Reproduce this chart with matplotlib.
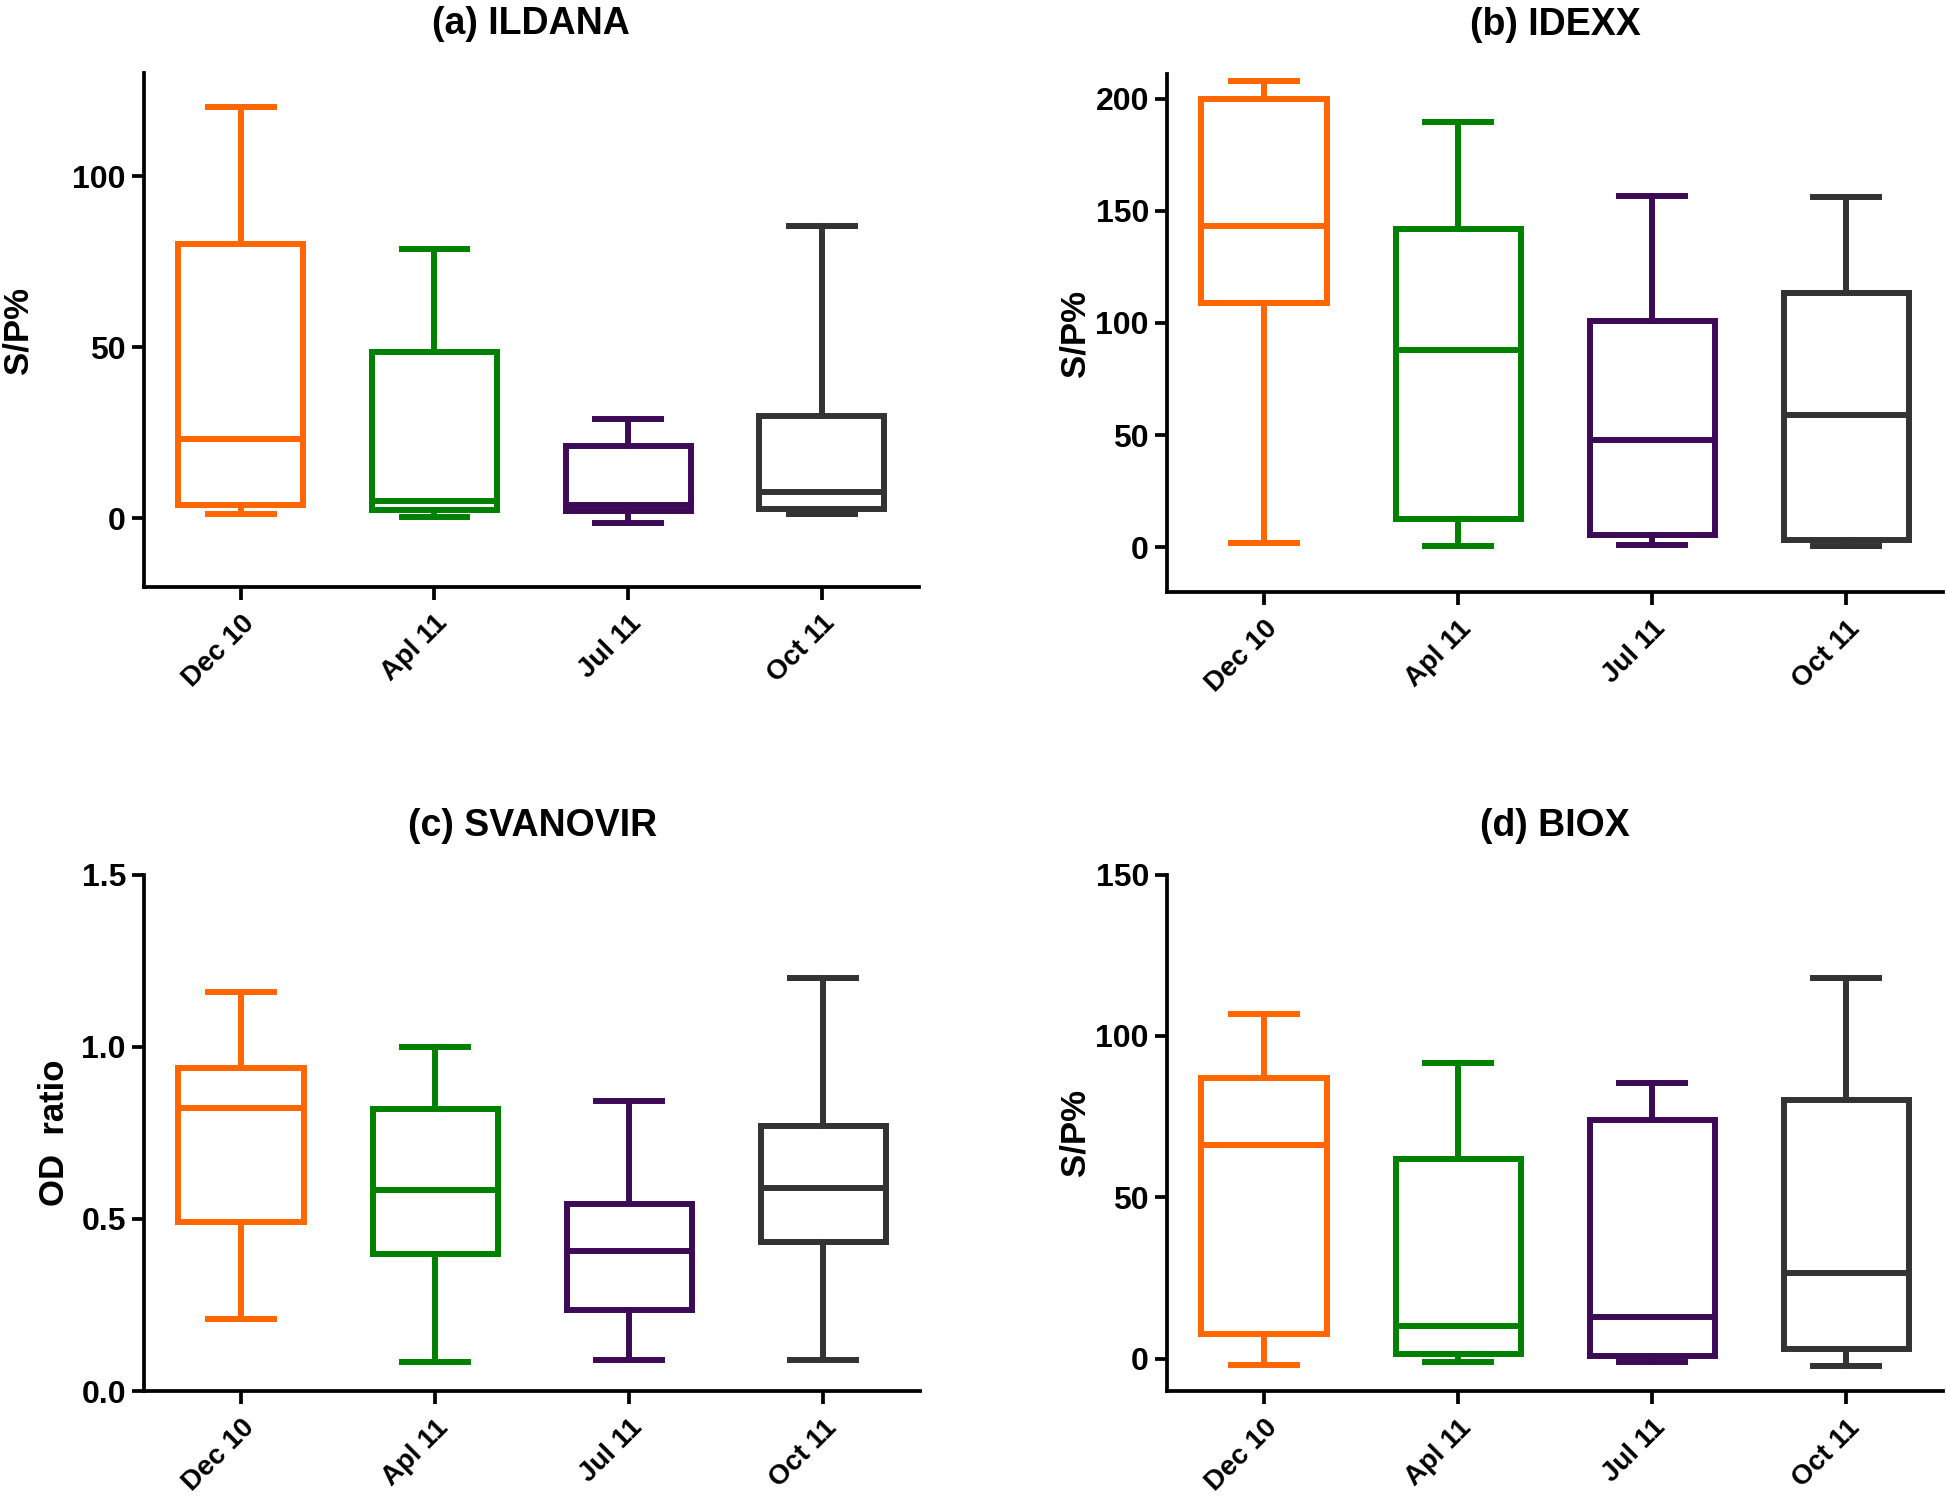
"""Box plots of antibody levels by sampling month for four ELISA kits."""
import matplotlib

matplotlib.use("Agg")
from matplotlib import pyplot as plt
from matplotlib.transforms import ScaledTranslation

months = ["Dec 10", "Apl 11", "Jul 11", "Oct 11"]
box_colors = ["#ff6600", "#008000", "#3d0a55", "#333333"]

# whisker low, Q1, median, Q3, whisker high per month
ildana_low = [1.3, 0.3, -1.4, 1.3]
ildana_q1 = [3.8, 2.4, 2.1, 2.7]
ildana_med = [23.2, 5.2, 3.8, 7.7]
ildana_q3 = [80.1, 48.7, 21.2, 29.8]
ildana_high = [120.1, 78.8, 28.9, 85.4]

idexx_low = [2.1, 0.4, 0.9, 0.4]
idexx_q1 = [109.1, 12.6, 5.3, 3.2]
idexx_med = [143.1, 88.1, 48.0, 59.0]
idexx_q3 = [200.0, 142.0, 101.0, 113.4]
idexx_high = [207.9, 189.7, 156.6, 156.0]

svanovir_low = [0.209, 0.085, 0.09, 0.09]
svanovir_q1 = [0.492, 0.399, 0.234, 0.432]
svanovir_med = [0.821, 0.584, 0.406, 0.591]
svanovir_q3 = [0.939, 0.82, 0.544, 0.769]
svanovir_high = [1.16, 1.0, 0.842, 1.2]

biox_low = [-1.9, -1.0, -1.0, -2.2]
biox_q1 = [7.8, 1.5, 0.9, 3.0]
biox_med = [66.2, 10.0, 13.0, 26.6]
biox_q3 = [86.9, 61.8, 73.9, 80.1]
biox_high = [106.7, 91.6, 85.4, 117.8]

fonts = ["Liberation Sans", "DejaVu Sans"]


def _stats(low, q1, med, q3, high):
    return [
        {"whislo": lo, "q1": a, "med": m, "q3": b, "whishi": hi, "fliers": []}
        for lo, a, m, b, hi in zip(low, q1, med, q3, high)
    ]


def _draw_panel(fig, ax, title, ylabel, stats, ylim, yticks, ytick_labels, label_x):
    for pos, (st, color) in enumerate(zip(stats, box_colors)):
        line = {"color": color, "linewidth": 4.3, "solid_joinstyle": "miter"}
        ax.bxp(
            [st],
            positions=[pos],
            widths=0.645,
            capwidths=0.34,
            showfliers=False,
            boxprops=line,
            whiskerprops=line,
            capprops=line,
            medianprops=line,
            manage_ticks=False,
        )
    ax.set_xlim(-0.5, 3.5)
    ax.set_ylim(*ylim)
    ax.set_yticks(yticks)
    ax.set_yticklabels(ytick_labels, family=fonts, fontweight="bold", fontsize=23)
    ax.set_xticks(range(len(months)))
    ax.set_xticklabels(
        months, rotation=45, ha="right", rotation_mode="anchor",
        family=fonts, fontweight="bold", fontsize=20,
    )
    shift = ScaledTranslation(-0.08, 0, fig.dpi_scale_trans)
    for label in ax.get_xticklabels():
        label.set_transform(label.get_transform() + shift)
    for side in ("top", "right"):
        ax.spines[side].set_visible(False)
    for side in ("left", "bottom"):
        ax.spines[side].set_linewidth(2.7)
    ax.tick_params(axis="both", length=9, width=2.7, direction="out", pad=4)
    ax.tick_params(axis="x", pad=8)
    ax.set_title(title, family=fonts, fontweight="bold", fontsize=27, pad=28)
    ax.set_ylabel(ylabel, family=fonts, fontweight="bold", fontsize=25)
    ax.yaxis.set_label_coords(label_x, 0.5)


fig = plt.figure(figsize=(19.46, 14.97), dpi=100)
ax_a = fig.add_axes([0.074, 0.608, 0.398, 0.343])
ax_b = fig.add_axes([0.5997, 0.6045, 0.399, 0.346])
ax_c = fig.add_axes([0.074, 0.0708, 0.399, 0.345])
ax_d = fig.add_axes([0.5997, 0.0708, 0.399, 0.345])

_draw_panel(fig, ax_a, "(a) ILDANA", "S/P%",
            _stats(ildana_low, ildana_q1, ildana_med, ildana_q3, ildana_high),
            (-20, 130), [0, 50, 100], ["0", "50", "100"], -0.142)
_draw_panel(fig, ax_b, "(b) IDEXX", "S/P%",
            _stats(idexx_low, idexx_q1, idexx_med, idexx_q3, idexx_high),
            (-20, 211), [0, 50, 100, 150, 200], ["0", "50", "100", "150", "200"], -0.097)
_draw_panel(fig, ax_c, "(c) SVANOVIR", "OD  ratio",
            _stats(svanovir_low, svanovir_q1, svanovir_med, svanovir_q3, svanovir_high),
            (0, 1.5), [0, 0.5, 1.0, 1.5], ["0.0", "0.5", "1.0", "1.5"], -0.094)
_draw_panel(fig, ax_d, "(d) BIOX", "S/P%",
            _stats(biox_low, biox_q1, biox_med, biox_q3, biox_high),
            (-10, 150), [0, 50, 100, 150], ["0", "50", "100", "150"], -0.097)

fig.savefig("out.png")
plt.close(fig)
